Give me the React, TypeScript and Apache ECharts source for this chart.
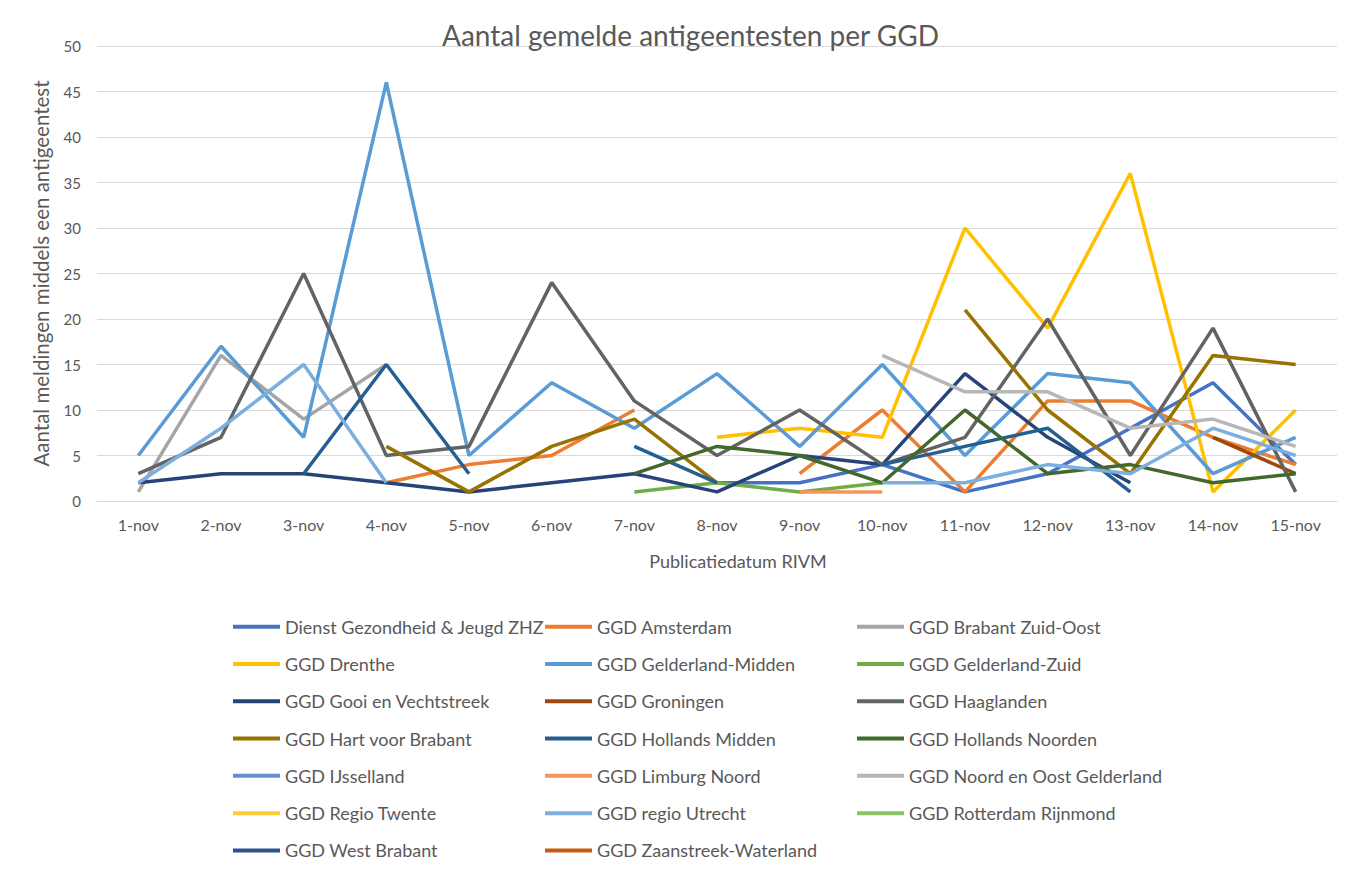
import React, { useEffect, useRef } from "react";
import * as echarts from "echarts";

const categories = ["1-nov", "2-nov", "3-nov", "4-nov", "5-nov", "6-nov", "7-nov", "8-nov", "9-nov", "10-nov", "11-nov", "12-nov", "13-nov", "14-nov", "15-nov"];
const yTicks = { min: 0, max: 50, interval: 5 };

const _ = null;
const zhz = [_, _, _, _, _, _, _, 2, 2, 4, 1, 3, 8, 13, 4];
const amsterdam = [_, _, _, 2, 4, 5, 10, _, 3, 10, 1, 11, 11, 7, 4];
const brabantZO = [1, 16, 9, 15, _, _, _, _, _, _, _, _, _, _, _];
const drenthe = [_, _, _, _, _, _, _, 7, 8, 7, 30, 19, 36, 1, 10];
const gelderlandMidden = [5, 17, 7, 46, 5, 13, 8, 14, 6, 15, 5, 14, 13, 3, 7];
const gelderlandZuid = [_, _, _, _, _, _, 1, 2, 1, 2, _, _, _, _, _];
const gooi = [2, 3, 3, 2, 1, 2, 3, 1, 5, 4, 14, 7, 2, _, _];
const groningen = [_, _, _, _, _, _, _, _, _, _, _, _, _, 7, 3];
const haaglanden = [3, 7, 25, 5, 6, 24, 11, 5, 10, 4, 7, 20, 5, 19, 1];
const hartVoorBrabant = [_, _, _, 6, 1, 6, 9, 2, _, _, 21, 10, 3, 16, 15];
const hollandsMidden = [_, _, 3, 15, 3, _, 6, 2, _, 4, 6, 8, 1, _, _];
const hollandsNoorden = [_, _, _, _, _, _, 3, 6, 5, 2, 10, 3, 4, 2, 3];
const ijsselland = [_, _, _, _, _, _, _, _, _, _, _, _, _, _, _];
const limburgNoord = [_, _, _, _, _, _, _, _, 1, 1, _, _, _, _, _];
const noordOostGelderland = [_, _, _, _, _, _, _, _, _, 16, 12, 12, 8, 9, 6];
const regioTwente = [_, _, _, _, _, _, _, _, _, _, _, _, _, _, _];
const regioUtrecht = [2, 8, 15, 2, _, _, _, _, _, 2, 2, 4, 3, 8, 5];
const rotterdamRijnmond = [_, _, _, _, _, _, _, _, _, _, _, _, _, _, _];
const westBrabant = [_, _, _, _, _, _, _, _, _, _, _, _, _, _, _];
const zaanstreek = [_, _, _, _, _, _, _, _, _, _, _, _, _, _, _];

const seriesNames = [
  "Dienst Gezondheid & Jeugd ZHZ", "GGD Amsterdam", "GGD Brabant Zuid-Oost",
  "GGD Drenthe", "GGD Gelderland-Midden", "GGD Gelderland-Zuid",
  "GGD Gooi en Vechtstreek", "GGD Groningen", "GGD Haaglanden",
  "GGD Hart voor Brabant", "GGD Hollands Midden", "GGD Hollands Noorden",
  "GGD IJsselland", "GGD Limburg Noord", "GGD Noord en Oost Gelderland",
  "GGD Regio Twente", "GGD regio Utrecht", "GGD Rotterdam Rijnmond",
  "GGD West Brabant", "GGD Zaanstreek-Waterland",
];
const seriesData = [
  zhz, amsterdam, brabantZO, drenthe, gelderlandMidden, gelderlandZuid,
  gooi, groningen, haaglanden, hartVoorBrabant, hollandsMidden, hollandsNoorden,
  ijsselland, limburgNoord, noordOostGelderland, regioTwente, regioUtrecht,
  rotterdamRijnmond, westBrabant, zaanstreek,
];
const seriesColors = [
  "#4472C4", "#ED7D31", "#A5A5A5", "#FFC000", "#5B9BD5", "#70AD47",
  "#264478", "#9E480E", "#636363", "#997300", "#255E91", "#43682B",
  "#698ED0", "#F1975A", "#B7B7B7", "#FFCD33", "#7CAFDD", "#8CC168",
  "#2F4F8F", "#C55A11",
];

const FONT = "Lato, 'Open Sans', sans-serif";
const TXT = "#595959";

export default function App() {
  const ref = useRef<HTMLDivElement>(null);
  useEffect(() => {
    if (!ref.current) return;
    const chart = echarts.init(ref.current, undefined, { renderer: "svg" });
    chart.setOption({
      animation: false,
      backgroundColor: "#ffffff",
      textStyle: { fontFamily: FONT },
      title: {
        text: "Aantal gemelde antigeentesten per GGD",
        left: 442,
        top: 21,
        padding: 0,
        textStyle: { fontFamily: FONT, fontSize: 28, fontWeight: "normal", color: TXT },
      },
      grid: { left: 97, right: 9, top: 46, bottom: 375 },
      xAxis: {
        type: "category",
        data: categories,
        boundaryGap: true,
        axisLine: { lineStyle: { color: "#D9D9D9" } },
        axisTick: { show: false },
        axisLabel: { color: TXT, fontSize: 16, margin: 15, fontFamily: FONT },
        name: "Publicatiedatum RIVM",
        nameLocation: "middle",
        nameGap: 51,
        nameTextStyle: { color: TXT, fontSize: 18, fontFamily: FONT, padding: [0, 0, 0, 42] },
      },
      yAxis: {
        type: "value",
        min: yTicks.min,
        max: yTicks.max,
        interval: yTicks.interval,
        axisLine: { show: false },
        axisTick: { show: false },
        splitLine: { lineStyle: { color: "#D9D9D9", width: 1 } },
        axisLabel: { color: TXT, fontSize: 15, margin: 16, fontFamily: FONT },
        name: "Aantal meldingen middels een antigeentest",
        nameLocation: "middle",
        nameRotate: 90,
        nameGap: 46,
        nameTextStyle: { color: TXT, fontSize: 20.5, fontFamily: FONT },
      },
      legend: {
        left: 233,
        top: 608,
        padding: 0,
        width: 960,
        orient: "horizontal",
        icon: "rect",
        itemWidth: 47,
        itemHeight: 4,
        itemGap: 0,
        textStyle: { color: TXT, fontSize: 18, fontFamily: FONT, width: 260, lineHeight: 37.3 },
        data: seriesNames,
      },
      series: seriesNames.map((name, i) => ({
        name,
        type: "line",
        data: seriesData[i],
        symbol: "none",
        connectNulls: false,
        color: seriesColors[i],
        lineStyle: { width: 3.5, color: seriesColors[i] },
        itemStyle: { color: seriesColors[i] },
      })),
    });
    return () => chart.dispose();
  }, []);
  return <div ref={ref} style={{ width: 1346, height: 876, position: "absolute", left: 0, top: 0 }} />;
}
